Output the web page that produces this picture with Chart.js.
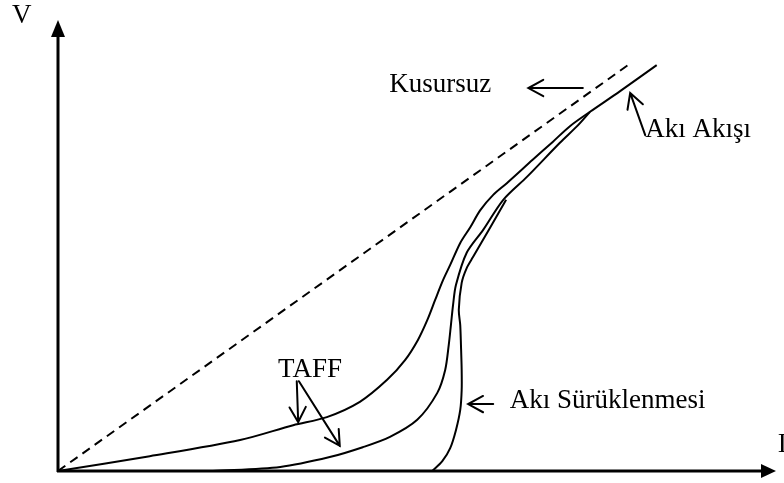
<!DOCTYPE html>
<html>
<head>
<meta charset="utf-8">
<script src="https://cdn.jsdelivr.net/npm/chart.js@4.4.1/dist/chart.umd.min.js"></script>
<style>
  body { margin: 0; background: #fff; }
  #wrap { width: 784px; height: 483px; }
</style>
</head>
<body>
<div id="wrap"><canvas id="vi-chart"></canvas></div>
<script>
// V-I curves, arbitrary units (0-100 on both axes)
// ideal (defect free) line
var idealI = [0, 79.5];
var idealV = [0, 90.4];
// upper TAFF curve, runs on into the flux flow line
var taffHighI = [0, 12.8, 25.4, 32.8, 37.5, 42.1, 45.9, 48.4, 50.2, 51.5, 52.6, 53.7, 54.7, 56.1, 57.5, 58.9, 60.7, 62.6, 66.2, 69.0, 71.4, 74.2, 78.4, 83.5];
var taffHighV = [0, 3.3, 6.9, 10.2, 12.0, 15.4, 20.3, 24.7, 29.2, 33.6, 38.1, 42.5, 45.9, 50.8, 54.3, 58.1, 61.5, 64.1, 69.3, 73.3, 76.8, 80.0, 84.6, 90.4];
// lower TAFF curve
var taffLowI = [21.6, 31.0, 37.9, 42.5, 46.3, 50.1, 52.9, 54.0, 54.5, 54.8, 55.1, 55.5, 57.0, 59.3, 62.1, 65.4, 70.0, 72.4, 74.2];
var taffLowV = [0, 0.9, 3.1, 5.3, 7.6, 11.4, 17.4, 22.5, 28.1, 32.5, 37.0, 41.4, 48.6, 53.7, 60.4, 65.5, 73.1, 76.8, 80.0];
// flux creep curve
var creepI = [52.2, 53.6, 54.7, 55.5, 56.1, 56.3, 56.3, 56.2, 56.1, 55.9, 56.3, 57.0, 57.9, 60.3, 62.5];
var creepV = [0, 2.2, 5.1, 9.1, 13.6, 18.0, 22.5, 28.1, 32.5, 35.9, 41.9, 45.2, 47.7, 54.3, 60.4];

// labels written on the plot and where they sit (data units, left / baseline)
var noteText = ['V', 'I', 'Kusursuz', 'Akı Akışı', 'TAFF', 'Akı Sürüklenmesi'];
var noteI = [-6.4, 100.4, 46.2, 81.9, 30.7, 63.0];
var noteV = [99.8, 4.2, 84.4, 74.4, 20.9, 14.0];

// pointer arrows: tail -> tip
var arrowFromI = [73.2, 81.9, 33.3, 33.6, 60.7];
var arrowFromV = [85.3, 74.8, 20.0, 20.0, 14.9];
var arrowToI = [65.6, 79.8, 33.5, 39.3, 57.2];
var arrowToV = [85.3, 84.2, 10.9, 5.6, 14.9];

function toPoints(xs, ys) {
  return xs.map(function (x, i) { return { x: x, y: ys[i] }; });
}

// axes with arrow heads, pointer arrows and text
var sketchPlugin = {
  id: 'sketch',
  afterDatasetsDraw: function (chart) {
    var ctx = chart.ctx;
    var xs = chart.scales.x, ys = chart.scales.y;
    var x0 = xs.getPixelForValue(0), y0 = ys.getPixelForValue(0);
    var xEnd = xs.getPixelForValue(100), yEnd = ys.getPixelForValue(100);
    ctx.save();
    ctx.strokeStyle = '#000';
    ctx.fillStyle = '#000';
    ctx.lineCap = 'butt';

    // axis lines
    ctx.lineWidth = 3;
    ctx.beginPath();
    ctx.moveTo(x0, y0 + 1);
    ctx.lineTo(x0, yEnd + 14);
    ctx.moveTo(x0 - 1, y0);
    ctx.lineTo(xEnd - 13, y0);
    ctx.stroke();
    // filled heads
    ctx.beginPath();
    ctx.moveTo(x0, yEnd - 2);
    ctx.lineTo(x0 - 7, yEnd + 15);
    ctx.lineTo(x0 + 7, yEnd + 15);
    ctx.closePath();
    ctx.fill();
    ctx.beginPath();
    ctx.moveTo(xEnd + 1, y0);
    ctx.lineTo(xEnd - 14, y0 - 7);
    ctx.lineTo(xEnd - 14, y0 + 7);
    ctx.closePath();
    ctx.fill();

    // open pointer arrows
    ctx.lineWidth = 2;
    ctx.lineCap = 'round';
    for (var i = 0; i < arrowFromI.length; i++) {
      var ax = xs.getPixelForValue(arrowFromI[i]), ay = ys.getPixelForValue(arrowFromV[i]);
      var bx = xs.getPixelForValue(arrowToI[i]), by = ys.getPixelForValue(arrowToV[i]);
      var ang = Math.atan2(by - ay, bx - ax);
      var len = 17, spread = 0.5;
      ctx.beginPath();
      ctx.moveTo(ax, ay);
      ctx.lineTo(bx, by);
      ctx.moveTo(bx - len * Math.cos(ang - spread), by - len * Math.sin(ang - spread));
      ctx.lineTo(bx, by);
      ctx.lineTo(bx - len * Math.cos(ang + spread), by - len * Math.sin(ang + spread));
      ctx.stroke();
    }

    // text
    ctx.font = '27px "Liberation Serif", "DejaVu Serif", serif';
    ctx.textAlign = 'left';
    ctx.textBaseline = 'alphabetic';
    for (var j = 0; j < noteText.length; j++) {
      ctx.fillText(noteText[j], xs.getPixelForValue(noteI[j]), ys.getPixelForValue(noteV[j]));
    }
    ctx.restore();
  }
};

var curveStyle = {
  borderColor: '#000',
  borderWidth: 2,
  pointRadius: 0,
  fill: false,
  tension: 0.3
};

var ctx = document.getElementById('vi-chart');
var viChart = new Chart(ctx, {
  type: 'line',
  data: {
    datasets: [
      Object.assign({ label: 'Kusursuz', data: toPoints(idealI, idealV), borderDash: [9, 6], tension: 0 }, curveStyle, { tension: 0, borderDash: [9, 6] }),
      Object.assign({ label: 'TAFF / Akı Akışı', data: toPoints(taffHighI, taffHighV) }, curveStyle),
      Object.assign({ label: 'TAFF', data: toPoints(taffLowI, taffLowV) }, curveStyle),
      Object.assign({ label: 'Akı Sürüklenmesi', data: toPoints(creepI, creepV) }, curveStyle)
    ]
  },
  options: {
    responsive: true,
    maintainAspectRatio: false,
    animation: false,
    layout: { padding: { left: 58, top: 22, right: 9, bottom: 12 } },
    scales: {
      x: { type: 'linear', min: 0, max: 100, display: false },
      y: { type: 'linear', min: 0, max: 100, display: false }
    },
    plugins: {
      legend: { display: false },
      tooltip: { enabled: false }
    }
  },
  plugins: [sketchPlugin]
});
</script>
</body>
</html>
